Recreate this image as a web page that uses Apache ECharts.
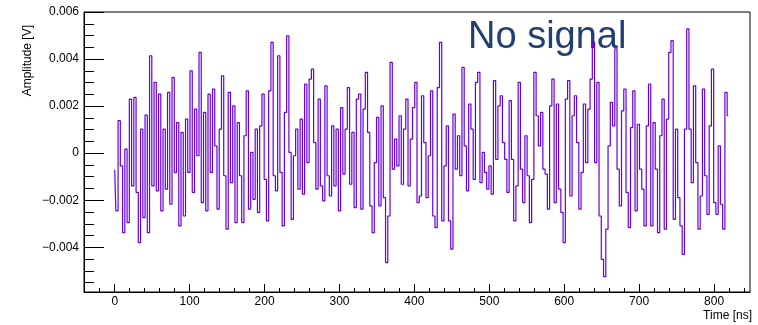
<!DOCTYPE html>
<html>
<head>
<meta charset="utf-8">
<script src="https://cdn.jsdelivr.net/npm/echarts@6/dist/echarts.min.js"></script>
<style>
html,body{margin:0;padding:0;background:#fff;}
#chart{width:758px;height:325px;}
</style>
</head>
<body>
<div id="chart"></div>
<script>
// Sampling: one reading every 3 ns starting at 0 ns
const sampleStartNs = 0;
const sampleStepNs = 3;
// Amplitude readings in mV
const amplitudeMilliVolt = [
-0.70,-2.45,1.38,-0.54,-3.38,0.17,-2.95,2.30,-1.39,2.37,-1.67,-3.80,1.02,-2.74,1.62,-3.38,4.14,-1.39,3.01,-1.60,
2.51,-2.45,1.02,-1.53,2.58,-2.17,3.22,-0.82,1.30,-3.09,0.88,-2.67,1.45,-0.82,3.50,-1.67,1.87,-0.11,4.28,-2.10,
1.73,-2.45,2.51,-0.82,2.72,0.31,-2.38,1.02,3.29,-0.96,-3.23,2.58,-1.25,2.01,-2.95,1.30,-0.96,-2.95,0.74,2.65,
-2.38,0.03,-1.96,1.02,-2.52,1.16,2.51,-1.11,-2.88,2.65,4.71,-0.96,-1.60,4.14,-0.82,-3.09,1.73,4.99,0.03,-2.81,
-0.11,1.02,-1.53,1.45,-1.74,2.94,-0.40,3.15,3.57,0.45,-1.53,2.30,-1.39,-2.03,2.86,-0.96,-1.82,1.16,-1.39,1.02,
-2.45,1.94,-0.89,1.02,2.79,-1.32,0.88,-2.31,2.30,2.51,-2.38,1.87,3.43,0.88,-2.24,-3.38,-0.40,1.52,-2.24,2.01,
-1.89,-4.65,-2.67,3.86,-0.68,0.60,-0.54,1.59,-1.32,1.02,2.30,-1.39,0.60,1.94,3.01,-2.10,-1.82,2.44,0.45,-1.89,
-0.11,2.65,-2.67,-3.16,2.79,4.71,-2.88,-0.54,1.16,-2.88,-4.08,1.66,-0.68,0.74,-0.96,3.65,0.31,-1.60,2.09,1.02,
-1.11,3.01,3.43,-1.25,0.03,-0.82,-1.53,-0.54,-1.74,3.08,-0.26,2.01,2.44,0.45,-0.26,-1.67,2.23,-0.26,-2.88,-1.39,
3.01,-0.68,-2.10,0.74,-0.96,-2.95,-1.11,3.43,1.59,0.31,1.73,-0.68,-0.89,-2.38,2.01,3.15,-2.10,2.09,-1.53,-2.52,
-3.80,2.30,3.08,-1.82,1.59,2.44,0.45,-2.38,-0.82,2.09,-0.40,1.87,3.15,4.71,-0.40,3.01,-2.67,-4.51,-5.25,-3.23,
0.31,2.16,1.16,4.43,-0.68,-2.24,1.80,2.72,-1.67,-3.16,1.09,2.65,-2.45,1.23,-0.68,-1.53,-3.09,1.16,2.94,-3.09,
1.30,-0.68,-3.38,0.74,2.30,-3.23,1.45,4.28,4.78,-2.81,1.02,-1.89,-3.09,-4.30,1.02,5.28,1.02,-1.25,2.86,-0.40,
-3.23,-1.82,2.72,-0.96,-2.60,1.16,3.57,-2.10,-2.60,0.31,-2.17,-3.23,2.58,1.59
];
// Axis ticks
const xMajorTicks = [0,100,200,300,400,500,600,700,800];
const yMajorTicks = [-0.004,-0.002,0,0.002,0.004,0.006];
const xRange = [-41, 848];
const yRange = [-0.0059, 0.006];

const xMinorTicks = [];
for (let v = -40; v <= 840; v += 20) xMinorTicks.push(v);
const yMinorTicks = [];
for (let k = -11; k <= 12; k++) yMinorTicks.push(+(k * 0.0005).toFixed(4));

const seriesData = amplitudeMilliVolt.map((mv, i) => [sampleStartNs + i * sampleStepNs, mv / 1000]);

const FONT = 'Liberation Sans';
const chart = echarts.init(document.getElementById('chart'), null, {renderer: 'canvas'});
function fmtY(v){
  if (Math.abs(v) < 1e-12) return '0';
  const s = Math.abs(v).toFixed(3);
  return v < 0 ? '\u2212' + s : s;
}
chart.setOption({
  animation: false,
  backgroundColor: '#fff',
  grid: {left: 84, right: 8, top: 12, bottom: 33, show: true, borderColor: '#000', borderWidth: 1, backgroundColor: '#fff'},
  xAxis: [
    {type: 'value', min: xRange[0], max: xRange[1], position: 'bottom',
     axisLine: {show: true, onZero: false, lineStyle: {color: '#000', width: 1}},
     axisTick: {show: true, inside: true, length: 8, lineStyle: {color: '#000'}, customValues: xMajorTicks},
     axisLabel: {show: true, customValues: xMajorTicks, color: '#000', fontSize: 12, fontFamily: FONT, margin: 4},
     splitLine: {show: false}},
    {type: 'value', min: xRange[0], max: xRange[1], position: 'bottom',
     axisLine: {show: false, onZero: false},
     axisTick: {show: true, inside: true, length: 4, lineStyle: {color: '#000'}, customValues: xMinorTicks},
     axisLabel: {show: false}, splitLine: {show: false}}
  ],
  yAxis: [
    {type: 'value', min: yRange[0], max: yRange[1], position: 'left',
     axisLine: {show: true, onZero: false, lineStyle: {color: '#000', width: 1}},
     axisTick: {show: true, inside: true, length: 20, lineStyle: {color: '#000'}, customValues: yMajorTicks},
     axisLabel: {show: true, customValues: yMajorTicks, formatter: fmtY, color: '#000', fontSize: 12, fontFamily: FONT, margin: 5},
     splitLine: {show: false}},
    {type: 'value', min: yRange[0], max: yRange[1], position: 'left',
     axisLine: {show: false, onZero: false},
     axisTick: {show: true, inside: true, length: 10, lineStyle: {color: '#000'}, customValues: yMinorTicks},
     axisLabel: {show: false}, splitLine: {show: false}}
  ],
  series: [{
    type: 'line', xAxisIndex: 0, yAxisIndex: 0, data: seriesData,
    step: 'middle', showSymbol: false, symbol: 'none',
    lineStyle: {color: '#6a00d6', width: 1.2}
  }],
  graphic: [
    {type: 'text', left: 468, top: 19, style: {text: 'No signal', fill: '#213f74', font: '38px "Liberation Sans"'}},
    {type: 'text', x: 28, y: 25, rotation: Math.PI/2, style: {text: 'Amplitude [V]', fill: '#000', font: '12px "Liberation Sans"', align: 'right', verticalAlign: 'middle'}},
    {type: 'text', x: 752, y: 316, style: {text: 'Time [ns]', fill: '#000', font: '12px "Liberation Sans"', align: 'right', verticalAlign: 'middle'}}
  ]
});
</script>
</body>
</html>
